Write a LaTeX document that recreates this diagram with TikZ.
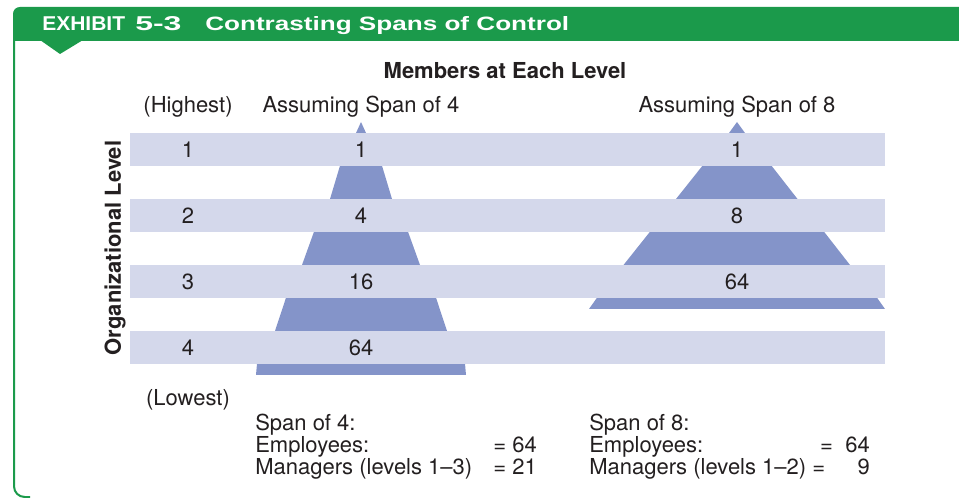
\documentclass[tikz,border=0pt]{standalone}
\usepackage{fontspec}
\usepackage{xcolor}
\setmainfont{TeX Gyre Heros}
\newfontfamily\headfont{Liberation Sans}[FakeStretch=1.35]
\newfontfamily\numfont{Liberation Sans}[FakeStretch=1.6]
\newfontfamily\exhibitfont{Liberation Sans}[FakeStretch=1.05]

\definecolor{exgreen}{HTML}{1B9A4B}
\definecolor{bandblue}{HTML}{D4D8EB}
\definecolor{pyrblue}{HTML}{8494C9}
\definecolor{inkgray}{HTML}{231F20}

\tikzset{
  txt/.style={text=inkgray,inner sep=0pt,font=\fontsize{16.5}{19.8}\selectfont},
  boldtxt/.style={txt,font=\fontsize{16.5}{19.8}\selectfont\bfseries},
  headtxt/.style={anchor=base west,inner sep=0pt,text=white},
  band/.style={fill=bandblue},
  pyr/.style={fill=pyrblue}
}

\begin{document}
\begin{tikzpicture}[x=0.75pt,y=-0.75pt]
	 \useasboundingbox (0,0) rectangle (959,498);
	 % header bar
	 \fill[exgreen] (13,41) -- (13,14) .. controls (13,10) and (16,7) .. (20,7) -- (959,7) -- (959,41) -- cycle;
	 \fill[exgreen] (40,40) -- (83,40) -- (60,54) -- cycle;
	 \draw[exgreen,line width=1.5pt,rounded corners=8] (14,41) -- (14,497) -- (30,497);
	 \node[headtxt,font=\fontsize{15}{18}\exhibitfont\bfseries] (exh) at (42,31) {EXHIBIT};
	 \node[headtxt,font=\fontsize{15}{18}\numfont\bfseries] (num) at (135,31) {5-3};
	 \node[headtxt,font=\fontsize{14.5}{18}\headfont\bfseries] (title) at (205,31) {Contrasting Spans of Control};
	 % pyramids
	 \fill[pyr] (361,122) -- (366,133) -- (382,165.7) -- (392,199) -- (408,231.7) -- (420,265) -- (436,297.7) -- (447,331) -- (465,363.7) -- (466,375)
	   -- (256,375) -- (257,363.7) -- (275,331) -- (286,297.7) -- (302,265) -- (314,231.7) -- (330,199) -- (340,165.7) -- (356,133) -- cycle;
	 \fill[pyr] (737,122) -- (745,133) -- (771.5,165.7) -- (797.5,199) -- (824,231.7) -- (850,265) -- (877,297.7) -- (885,309)
	   -- (589,309) -- (597,297.7) -- (623.5,265) -- (650,231.7) -- (676,199) -- (702.5,165.7) -- (729,133) -- cycle;
	 % level bands
	 \fill[band] (130,133) rectangle (885,165.7);
	 \fill[band] (130,199) rectangle (885,231.7);
	 \fill[band] (130,265) rectangle (885,297.7);
	 \fill[band] (130,331) rectangle (885,363.7);
	 % headings
	 \node[boldtxt,anchor=base] (members) at (505,79) {Members at Each Level};
	 \node[txt,anchor=base] (highest) at (188,113) {(Highest)};
	 \node[txt,anchor=base] (span4) at (361,113) {Assuming Span of 4};
	 \node[txt,anchor=base] (span8) at (737,113) {Assuming Span of 8};
	 \node[boldtxt,rotate=90,anchor=center] (orglevel) at (115,248) {Organizational Level};
	 % level numbers
	 \node[txt,anchor=base] (lv1) at (188,158) {1};
	 \node[txt,anchor=base] (lv2) at (188,224) {2};
	 \node[txt,anchor=base] (lv3) at (188,290) {3};
	 \node[txt,anchor=base] (lv4) at (188,356) {4};
	 \node[txt,anchor=base] (a1) at (361,158) {1};
	 \node[txt,anchor=base] (a2) at (361,224) {4};
	 \node[txt,anchor=base] (a3) at (361,290) {16};
	 \node[txt,anchor=base] (a4) at (361,356) {64};
	 \node[txt,anchor=base] (b1) at (737,158) {1};
	 \node[txt,anchor=base] (b2) at (737,224) {8};
	 \node[txt,anchor=base] (b3) at (737,290) {64};
	 \node[txt,anchor=base] (lowest) at (188,405) {(Lowest)};
	 % totals
	 \node[txt,anchor=base west] (sumA) at (255,430) {Span of 4:};
	 \node[txt,anchor=base west] (empA) at (255,452) {Employees:};
	 \node[txt,anchor=base west] (mgrA) at (255,474) {Managers (levels 1--3)};
	 \node[txt,anchor=base east] (empAv) at (537,452) {= 64};
	 \node[txt,anchor=base east] (mgrAv) at (537,474) {= 21};
	 \node[txt,anchor=base west] (sumB) at (589,430) {Span of 8:};
	 \node[txt,anchor=base west] (empB) at (589,452) {Employees:};
	 \node[txt,anchor=base west] (mgrB) at (589,474) {Managers (levels 1--2) =};
	 \node[txt,anchor=base east] (empBv) at (870,452) {=\ \ 64};
	 \node[txt,anchor=base east] (mgrBv) at (870,474) {9};
\end{tikzpicture}
\end{document}
